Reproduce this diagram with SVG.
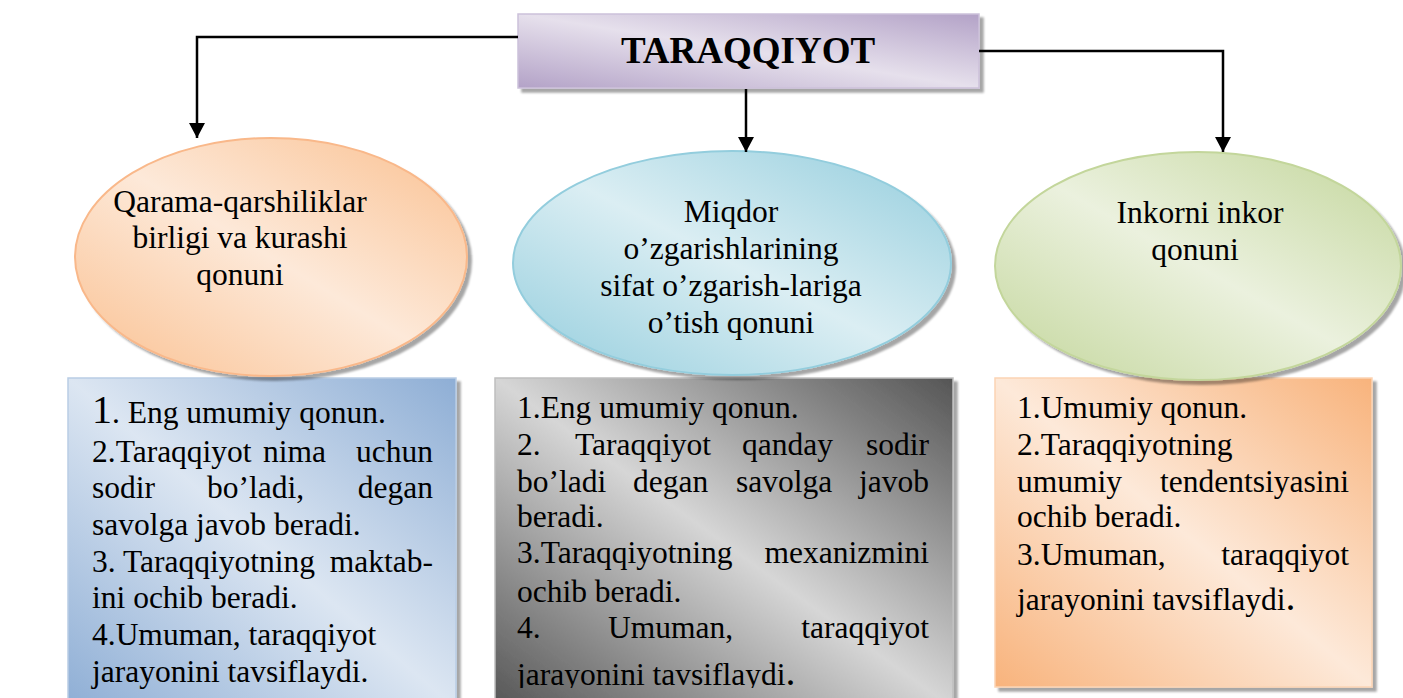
<svg xmlns="http://www.w3.org/2000/svg" width="1403" height="698" viewBox="0 0 1403 698">
<style>
.t{font-family:"Liberation Serif","Times New Roman",serif;font-size:31.5px;fill:#000}
.c{text-anchor:middle}
.e{text-anchor:end}
.title{font-family:"Liberation Serif","Times New Roman",serif;font-size:37px;font-weight:bold;text-anchor:middle;fill:#000}
.conn{fill:none;stroke:#000;stroke-width:2.5}
</style>
<defs>
<filter id="sh" x="-5%" y="-5%" width="115%" height="115%">
<feDropShadow dx="4" dy="4" stdDeviation="1" flood-color="#000" flood-opacity="0.35"/>
</filter>
<linearGradient id="gT" x1="1" y1="0" x2="0" y2="1"><stop offset="0" stop-color="#b3a2c7"/><stop offset="0.5" stop-color="#e6e0ec"/><stop offset="1" stop-color="#b3a2c7"/></linearGradient>
<linearGradient id="gO" x1="1" y1="0" x2="0" y2="1"><stop offset="0" stop-color="#fac090"/><stop offset="0.5" stop-color="#fde9d9"/><stop offset="1" stop-color="#fac090"/></linearGradient>
<linearGradient id="gB" x1="1" y1="0" x2="0" y2="1"><stop offset="0" stop-color="#93cddd"/><stop offset="0.5" stop-color="#dbeef3"/><stop offset="1" stop-color="#93cddd"/></linearGradient>
<linearGradient id="gG" x1="1" y1="0" x2="0" y2="1"><stop offset="0" stop-color="#c3d69b"/><stop offset="0.5" stop-color="#ebf1de"/><stop offset="1" stop-color="#c3d69b"/></linearGradient>
<linearGradient id="gBl" x1="1" y1="0" x2="0" y2="1"><stop offset="0" stop-color="#8eaed5"/><stop offset="0.5" stop-color="#dce6f2"/><stop offset="1" stop-color="#8eaed5"/></linearGradient>
<linearGradient id="gGr" x1="1" y1="0" x2="0" y2="1"><stop offset="0" stop-color="#555555"/><stop offset="0.5" stop-color="#d6d6d6"/><stop offset="1" stop-color="#555555"/></linearGradient>
<linearGradient id="gOr" x1="1" y1="0" x2="0" y2="1"><stop offset="0" stop-color="#f8b37c"/><stop offset="0.5" stop-color="#fde9d9"/><stop offset="1" stop-color="#f8b37c"/></linearGradient>
<marker id="arr" viewBox="0 0 15 16" refX="15" refY="8" markerWidth="15" markerHeight="16" markerUnits="userSpaceOnUse" orient="auto">
<path d="M0 0 L15 8 L0 16 Z" fill="#000"/>
</marker>
<clipPath id="clipMid"><rect x="495" y="378" width="458" height="310"/></clipPath>
</defs>

<g id="box-left">
<rect x="68" y="378" width="388" height="330" fill="url(#gBl)" stroke="#b9cde5" stroke-width="1.5" filter="url(#sh)"/>
<text class="t" y="423"><tspan x="92" font-size="40">1</tspan><tspan>. Eng umumiy qonun.</tspan></text>
<text class="t" y="462"><tspan x="92">2.Taraqqiyot</tspan></text>
<text class="t" x="263" y="462">nima</text>
<text class="t e" x="433" y="462">uchun</text>
<text class="t" x="92" y="498">sodir</text>
<text class="t" x="207" y="498">bo’ladi,</text>
<text class="t e" x="433" y="498">degan</text>
<text class="t" x="92" y="535">savolga javob beradi.</text>
<text class="t" x="92" y="572">3. Taraqqiyotning</text>
<text class="t e" x="433" y="572">maktab-</text>
<text class="t" x="92" y="608">ini ochib beradi.</text>
<text class="t" x="92" y="645">4.Umuman, taraqqiyot</text>
<text class="t" x="92" y="682">jarayonini tavsiflaydi.</text>
</g>

<g id="box-middle">
<rect x="495" y="378" width="458" height="330" fill="url(#gGr)" stroke="#bfbfbf" stroke-width="1.5" filter="url(#sh)"/>
<g clip-path="url(#clipMid)">
<text class="t" x="517" y="418">1.Eng umumiy qonun.</text>
<text class="t" x="517" y="455">2.</text>
<text class="t" x="575" y="455">Taraqqiyot</text>
<text class="t" x="742" y="455">qanday</text>
<text class="t e" x="929" y="455">sodir</text>
<text class="t" x="517" y="492">bo’ladi</text>
<text class="t" x="633" y="492">degan</text>
<text class="t" x="736" y="492">savolga</text>
<text class="t e" x="929" y="492">javob</text>
<text class="t" x="517" y="527">beradi.</text>
<text class="t" x="517" y="563">3.Taraqqiyotning</text>
<text class="t e" x="929" y="563">mexanizmini</text>
<text class="t" x="517" y="602">ochib beradi.</text>
<text class="t" x="517" y="638">4.</text>
<text class="t" x="608" y="638">Umuman,</text>
<text class="t e" x="929" y="638">taraqqiyot</text>
<text class="t" x="517" y="685">jarayonini tavsiflaydi<tspan font-size="40">.</tspan></text>
</g>
</g>

<g id="box-right">
<rect x="995" y="378" width="377" height="309" fill="url(#gOr)" stroke="#fbd4b4" stroke-width="1.5" filter="url(#sh)"/>
<text class="t" x="1017" y="418">1.Umumiy qonun.</text>
<text class="t" x="1017" y="455">2.Taraqqiyotning</text>
<text class="t" x="1017" y="492">umumiy</text>
<text class="t e" x="1349" y="492">tendentsiyasini</text>
<text class="t" x="1017" y="527">ochib beradi.</text>
<text class="t" x="1017" y="565">3.Umuman,</text>
<text class="t e" x="1349" y="565">taraqqiyot</text>
<text class="t" x="1017" y="610">jarayonini tavsiflaydi<tspan font-size="40">.</tspan></text>
</g>

<g id="ellipse-left">
<ellipse cx="271" cy="257" rx="196" ry="119" fill="url(#gO)" stroke="#f9b88a" stroke-width="2" filter="url(#sh)"/>
<text class="t c" x="240" y="212">Qarama-qarshiliklar</text>
<text class="t c" x="240" y="248">birligi va kurashi</text>
<text class="t c" x="240" y="285">qonuni</text>
</g>

<g id="ellipse-middle">
<ellipse cx="732" cy="263" rx="219" ry="112" fill="url(#gB)" stroke="#93cddd" stroke-width="2" filter="url(#sh)"/>
<text class="t c" x="731" y="222">Miqdor</text>
<text class="t c" x="731" y="259">o’zgarishlarining</text>
<text class="t c" x="731" y="296">sifat o’zgarish-lariga</text>
<text class="t c" x="731" y="333">o’tish qonuni</text>
</g>

<g id="ellipse-right">
<ellipse cx="1198" cy="266" rx="203" ry="114" fill="url(#gG)" stroke="#c3d69b" stroke-width="2" filter="url(#sh)"/>
<text class="t c" x="1200" y="223">Inkorni inkor</text>
<text class="t c" x="1195" y="260">qonuni</text>
</g>

<g id="title">
<rect x="518" y="14" width="461" height="74" fill="url(#gT)" stroke="#ccc1da" stroke-width="1.5" filter="url(#sh)"/>
<text class="title" x="748" y="63">TARAQQIYOT</text>
</g>

<g id="connectors">
<path class="conn" d="M518 37 H197 V138" marker-end="url(#arr)"/>
<path class="conn" d="M979 51 H1223 V152" marker-end="url(#arr)"/>
<path class="conn" d="M746 89 V152" marker-end="url(#arr)"/>
</g>
</svg>
